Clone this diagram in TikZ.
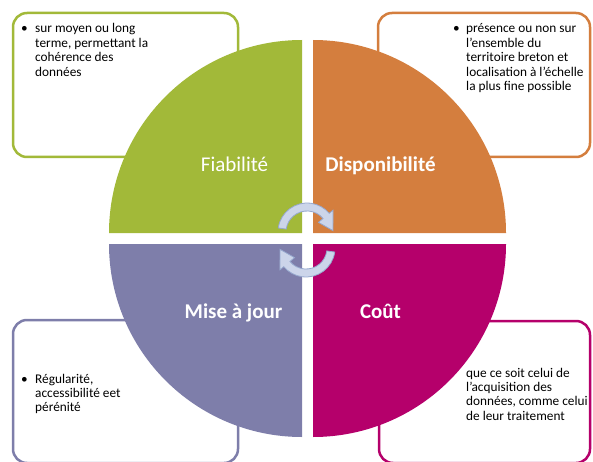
\documentclass[tikz,border=0pt]{standalone}
\usepackage{fontspec}
\setmainfont{Carlito}
\usetikzlibrary{arrows.meta,positioning,calc}
\definecolor{olive}{RGB}{162,185,57}
\definecolor{copper}{RGB}{212,126,62}
\definecolor{lavender}{RGB}{126,126,170}
\definecolor{plum}{RGB}{181,0,107}
\definecolor{mist}{RGB}{204,213,234}
\definecolor{steel}{RGB}{150,168,206}
\tikzset{
  frame/.style={draw=#1,line width=2.5pt,fill=white,rounded corners=14pt},
  quad/.style={fill=#1},
  title/.style={text=white,font=\fontsize{21}{24}\selectfont,anchor=base},
  title bold/.style={title,font=\fontsize{21}{24}\selectfont\bfseries},
  note/.style={font=\fontsize{13.3}{14.4}\selectfont,align=left,anchor=base west,
    inner sep=0pt,text=black},
  % pictograms
  pics/cyclearrow/.style={code={
    \filldraw[fill=mist,draw=steel,line width=0.8pt]
      (172:21) -- (172:29) arc[start angle=172,end angle=40,radius=29]
      -- (40:34) -- (3:26) -- (40:15) -- (40:21)
      arc[start angle=40,end angle=172,radius=21] -- cycle;
  }},
}

\begin{document}
\begin{tikzpicture}[x=1pt,y=1pt]
  \useasboundingbox (0,0) rectangle (593,461);
  \clip (0,0) rectangle (593,461);
  % text frames
  \draw[frame=olive] (13,448) rectangle (238,304);
  \draw[frame=copper] (378,448) rectangle (590,304);
  \draw[frame=lavender] (13,141) rectangle (238,-2);
  \draw[frame=plum] (379,140) rectangle (590,-2);
  % quarters
  \fill[quad=olive] (302,228) -- (109,228) arc[start angle=180,end angle=90,radius=193] -- cycle;
  \fill[quad=copper] (313,228) -- (313,421) arc[start angle=90,end angle=0,radius=193] -- cycle;
  \fill[quad=lavender] (302,217) -- (109,217) arc[start angle=180,end angle=270,radius=193] -- cycle;
  \fill[quad=plum] (313,217) -- (313,24) arc[start angle=270,end angle=360,radius=193] -- cycle;
  \pic at (307,229) {cyclearrow};
  \pic[rotate=180] at (306,213) {cyclearrow};
  \node[title] (fia) at (234.5,289) {Fiabilité};
  \node[title bold] (dispo) at (380.5,289) {Disponibilité};
  \node[title bold] (maj) at (233.5,143) {Mise à jour};
  \node[title bold] (cout) at (380.5,143) {Coût};
  % notes (placed by the baseline of their last line)
  \node[note] (bfia) at (21,428) {•};
  \node[note] (tfia) at (35,384.8) {sur moyen ou long\\terme, permettant la\\cohérence des\\données};
  \node[note] (bdispo) at (453,428) {•};
  \node[note] (tdispo) at (466,370.4) {présence ou non sur\\l’ensemble du\\territoire breton et\\localisation à l’échelle\\la plus fine possible};
  \node[note] (bmaj) at (21,78) {•};
  \node[note] (tmaj) at (35,49.2) {Régularité,\\accessibilité eet\\pérénité};
  \node[note] (tcout) at (466,40.8) {que ce soit celui de\\l’acquisition des\\données, comme celui\\de leur traitement};
\end{tikzpicture}
\end{document}
